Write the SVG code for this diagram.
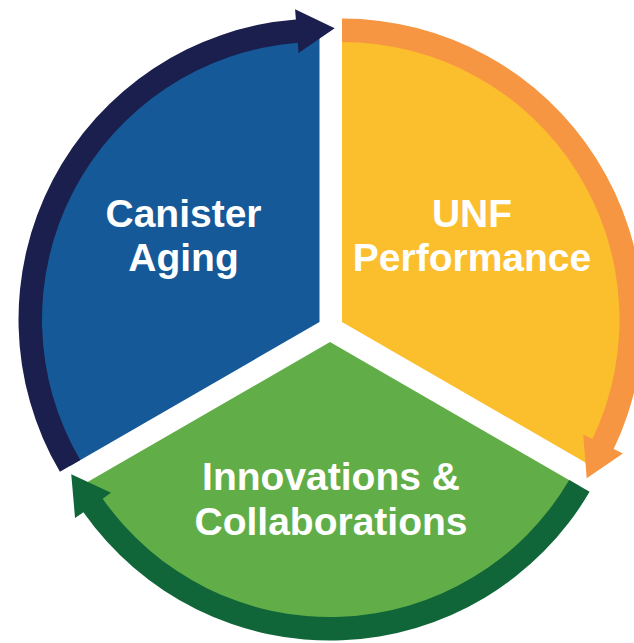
<svg xmlns="http://www.w3.org/2000/svg" width="634" height="643" viewBox="0 0 634 643">
  <style>
    .label { font-family: "Liberation Sans", Arial, sans-serif; font-weight: bold; font-size: 39px; fill: #ffffff; text-anchor: middle; }
  </style>
  <rect width="634" height="643" fill="#ffffff"/>

  <!-- Exploded pie segments -->
  <g id="canister-aging">
    <path d="M319.5 322 L70.08 466 A288 288 0 0 1 319.5 34 Z" fill="#165998"/>
    <text class="label" x="183.5" y="226.5">Canister</text>
    <text class="label" x="183.5" y="271">Aging</text>
  </g>
  <g id="unf-performance">
    <path d="M342 322 L342 34 A288 288 0 0 1 591.42 466 Z" fill="#FBBE2D"/>
    <text class="label" x="472" y="226.5">UNF</text>
    <text class="label" x="472" y="271">Performance</text>
  </g>
  <g id="innovations-collaborations">
    <path d="M330 342 L579.42 486 A288 288 0 0 1 80.58 486 Z" fill="#61AE48"/>
    <text class="label" x="331" y="489.5">Innovations &amp;</text>
    <text class="label" x="331" y="535">Collaborations</text>
  </g>

  <!-- Circular arrows running clockwise around the cycle -->
  <g id="connectors">
    <path d="M59.92 471.87 A301 301 0 0 1 295.88 19.43 L295.08 9.21 L334.69 28.16 L298.53 53.07 L297.73 42.85 A277.5 277.5 0 0 0 80.27 460.12 Z" fill="#1B1F4D"/>
    <path d="M342 18.5 A301 301 0 0 1 613.68 449.08 L622.93 453.49 L586.71 478.32 L583.22 434.55 L592.47 438.97 A277.5 277.5 0 0 0 342 42 Z" fill="#F79642"/>
    <path d="M589.58 491.87 A301 301 0 0 1 83.44 512.15 L75.04 518.03 L71.26 474.28 L111.08 492.79 L102.69 498.67 A277.5 277.5 0 0 0 569.23 480.12 Z" fill="#116639"/>
  </g>
</svg>
